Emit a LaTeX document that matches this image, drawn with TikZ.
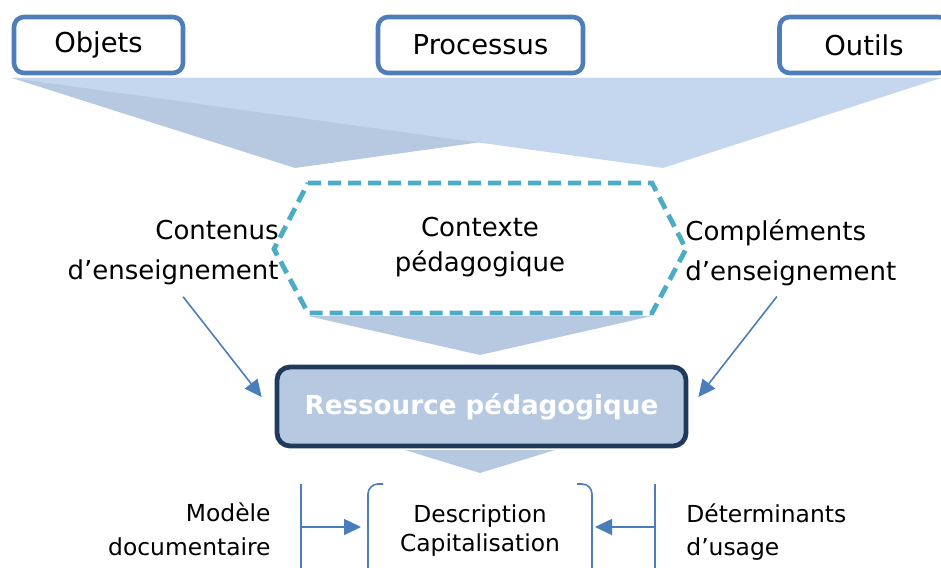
\documentclass[tikz,border=0pt]{standalone}
\usepackage{fontspec}
\setmainfont{DejaVu Sans}
\usepackage{tikz}
\usetikzlibrary{arrows.meta,positioning}
\definecolor{boxblue}{RGB}{79,125,185}
\definecolor{funlight}{RGB}{197,215,238}
\definecolor{fundark}{RGB}{183,201,225}
\definecolor{ctxteal}{RGB}{75,172,198}
\definecolor{resnavy}{RGB}{31,58,92}
\definecolor{arrowblue}{RGB}{74,126,187}

\begin{document}
\begin{tikzpicture}[x=0.5pt,y=-0.5pt,
    topbox/.style={draw=boxblue, line width=2.3pt, rounded corners=5pt, fill=white,
        minimum height=28pt, inner sep=0pt, font=\fontsize{13.7}{16}\selectfont},
    ctxline/.style={draw=ctxteal, line width=2.4pt, dash pattern=on 6.5pt off 3.5pt},
    resbox/.style={draw=resnavy, fill=fundark, line width=2.4pt, rounded corners=6.5pt,
        minimum width=204.5pt, minimum height=39.5pt, inner sep=0pt,
        text=white, font=\fontsize{13.1}{16}\selectfont\bfseries},
    midlabel/.style={inner sep=0pt, font=\fontsize{13}{20}\selectfont},
    botlabel/.style={inner sep=0pt, font=\fontsize{11.7}{16.8}\selectfont},
    bracketline/.style={draw=boxblue, line width=0.8pt, rounded corners=5pt},
    flowarrow/.style={draw=arrowblue, line width=0.8pt, -{Triangle[length=8.5pt,width=8pt]}}]
    \useasboundingbox (0,0) rectangle (941,567);

    % Funnel under the top boxes
    \fill[fundark] (12,78) -- (941,78) -- (295,168) -- cycle;
    \fill[funlight] (12,78) -- (941,78) -- (663,168) -- cycle;

    % Top boxes
    \foreach \name/\x/\w/\txt in {obj/98.5/84.5/Objets, proc/480.5/102.5/Processus, outl/864/84.5/Outils}
        \node[topbox, minimum width=\w pt] (\name) at (\x,45) {\txt};

    % Context hexagon
    \draw[ctxline] (308,183) -- (652,183) -- (686,249) -- (652,313) -- (308,313) -- (274,249) -- cycle;
    \node[midlabel, font=\fontsize{13}{17.5}\selectfont, align=center] (ctx) at (480,247) {Contexte\\pédagogique};
    \fill[fundark] (308,316) -- (652,316) -- (480,355) -- cycle;

    % Side labels
    \node[midlabel, anchor=east, align=right] (cont) at (279,253) {Contenus\\d’enseignement};
    \node[midlabel, anchor=west, align=left] (compl) at (685,253) {Compléments\\d’enseignement};

    % Resource
    \fill[fundark] (405,450) -- (555,450) -- (480,473) -- cycle;
    \node[resbox] (res) at (481.5,406.5) {Ressource pédagogique};

    \draw[flowarrow] ([xshift=5pt,yshift=-5.5pt]cont.south) -- ([xshift=-6.5pt,yshift=4.75pt]res.west);
    \draw[flowarrow] ([xshift=-7pt,yshift=-5pt]compl.south) -- ([xshift=5pt,yshift=4.75pt]res.east);

    % Description / capitalisation
    \node[botlabel, font=\fontsize{11.7}{14.5}\selectfont, align=center] (desc) at (480,531) {Description\\Capitalisation};
    \draw[bracketline] (383,484) -- (368,484) -- (368,580);
    \draw[bracketline] (577,484) -- (592,484) -- (592,580);

    \node[botlabel, anchor=east, align=right] (mod) at (271,529) {Modèle\\documentaire};
    \node[botlabel, anchor=west, align=left] (det) at (686,532) {Déterminants\\d’usage};

    \draw[draw=boxblue, line width=0.8pt] (301,484) -- (301,580);
    \draw[draw=boxblue, line width=0.8pt] (655,484) -- (655,580);
    \coordinate (lbar) at (301,527);
    \coordinate (rbar) at (655,527);
    \coordinate (lin) at (361,527);
    \coordinate (rin) at (595,527);
    \draw[flowarrow] (lbar) -- (lin);
    \draw[flowarrow] (rbar) -- (rin);
\end{tikzpicture}
\end{document}
